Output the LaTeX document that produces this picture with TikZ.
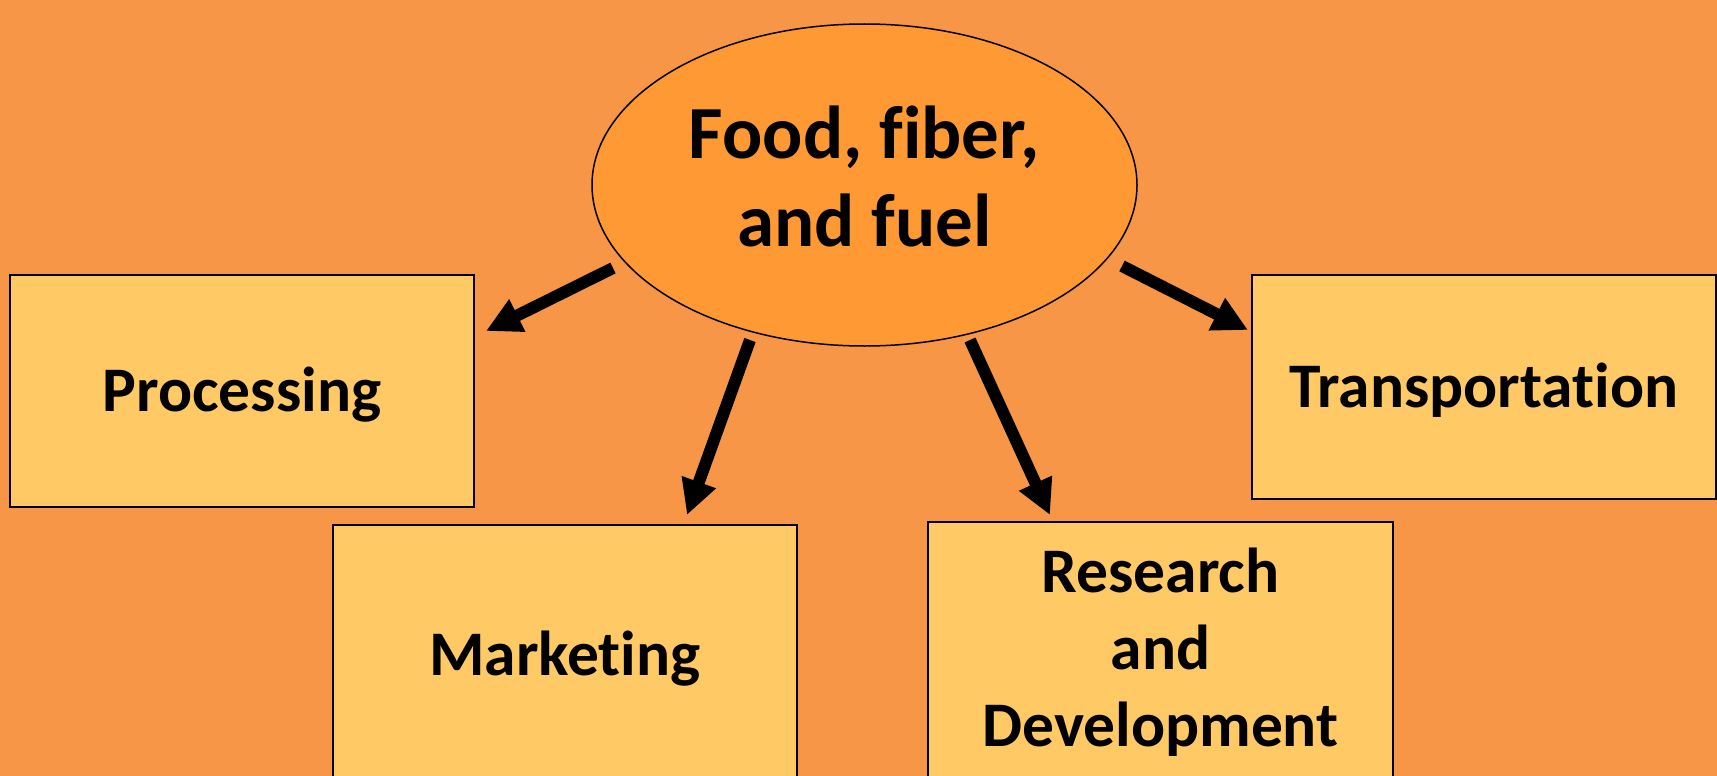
\documentclass[tikz,border=0pt]{standalone}
\usepackage{fontspec}
\setmainfont{Carlito}[Ligatures=NoCommon]
\usetikzlibrary{shapes.geometric,arrows.meta}
\definecolor{bgorange}{HTML}{F79646}
\definecolor{ellorange}{HTML}{FF9933}
\definecolor{boxyellow}{HTML}{FFCA65}
\tikzset{
  boxnode/.style={draw=black,line width=2pt,fill=boxyellow,rectangle,inner sep=0pt,
    align=center,font=\fontsize{63.5}{77}\selectfont\bfseries},
  ellnode/.style={draw=black,line width=1.5pt,fill=ellorange,ellipse,inner sep=0pt,
    font=\fontsize{75}{88}\selectfont\bfseries},
  bigarrow/.style={line width=12pt,-{Triangle[length=35pt,width=34pt]}}
}
\begin{document}
\begin{tikzpicture}[x=1pt,y=-1pt]
\useasboundingbox (0,0) rectangle (1717,776);
\fill[bgorange] (0,0) rectangle (1717,776);
\clip (0,0) rectangle (1717,776);
\node[ellnode,minimum width=545pt,minimum height=322pt] (ell) at (864.5,185)
  {\raisebox{7pt}{\begin{tabular}{@{}c@{}}Food, fiber,\\and fuel\end{tabular}}};
\node[boxnode,minimum width=464pt,minimum height=232pt,text height=41pt,text depth=0pt] (proc) at (242,391) {Processing};
\node[boxnode,minimum width=464pt,minimum height=224pt,text height=41pt,text depth=0pt] (trans) at (1484,387) {Transportation};
\node[boxnode,minimum width=464pt,minimum height=260pt,text height=41pt,text depth=0pt] (mark) at (565,655) {Marketing};
\node[boxnode,minimum width=465pt,minimum height=260pt] (rd) at (1160.5,652) {Research\\and\\Development};
\coordinate (a1s) at (613,268);
\coordinate (a1e) at (486,331);
\coordinate (a2s) at (750,340);
\coordinate (a2e) at (687,515);
\coordinate (a3s) at (970,340);
\coordinate (a3e) at (1050,515);
\coordinate (a4s) at (1122,266);
\coordinate (a4e) at (1248,330);
\draw[bigarrow] (a1s) -- (a1e);
\draw[bigarrow] (a2s) -- (a2e);
\draw[bigarrow] (a3s) -- (a3e);
\draw[bigarrow] (a4s) -- (a4e);
\end{tikzpicture}
\end{document}
